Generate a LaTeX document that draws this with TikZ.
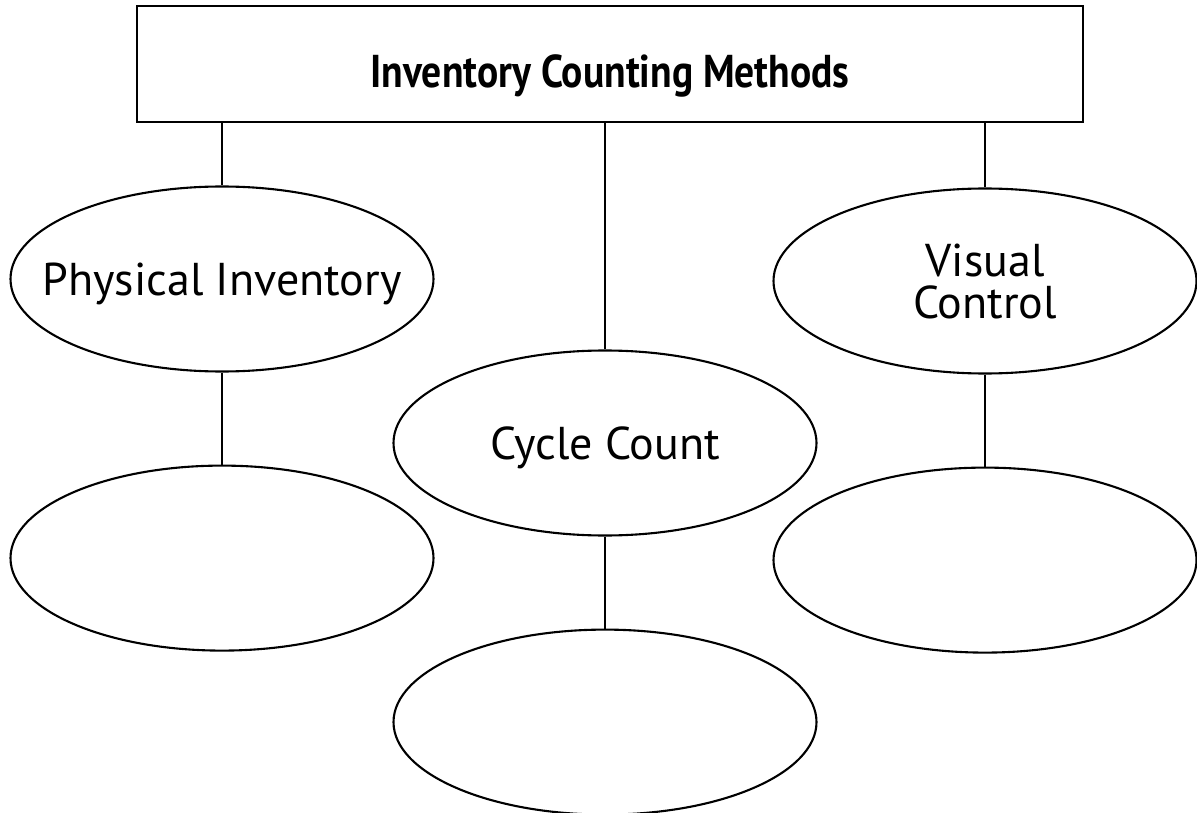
\documentclass[tikz,border=0pt]{standalone}
\usepackage{fontspec}
\setmainfont{PT Sans}
\usetikzlibrary{shapes.geometric,positioning}

\begin{document}
\begin{tikzpicture}[x=1pt,y=-1pt]
  \tikzstyle{every node} = [font=\fontsize{46}{42}\selectfont]
  \tikzstyle{Head} = [draw, line width=2.2pt, minimum width=946pt,
                      minimum height=116pt, inner sep=0pt,
                      text height=48pt, text depth=0pt]
  \tikzstyle{Oval} = [draw, ellipse, line width=2.1pt, minimum width=423pt,
                      minimum height=185pt, inner ysep=0pt, inner xsep=-40pt,
                      align=center]
  \tikzstyle{Link} = [line width=2.1pt]
\useasboundingbox (0,0) rectangle (1197,813);

\node[Head] (M) at (610,64) {\scalebox{0.86}[1]{\bfseries Inventory Counting Methods}};

\node[Oval, text depth=0pt] (P0) at (222,279) {Physical Inventory};
\node[Oval, text depth=0pt] (C0) at (605,443) {Cycle Count};
\node[Oval] (V0) at (985,281) {Visual\\Control};
\node[Oval, below=92pt of P0] (P1) {};
\node[Oval, below=92pt of C0] (C1) {};
\node[Oval, below=92pt of V0] (V1) {};

\draw[Link] (P0.north |- M.south) -- (P0.north);
\draw[Link] (C0.north |- M.south) -- (C0.north);
\draw[Link] (V0.north |- M.south) -- (V0.north);
\draw[Link] (P0) -- (P1);
\draw[Link] (C0) -- (C1);
\draw[Link] (V0) -- (V1);

\end{tikzpicture}
\end{document}
